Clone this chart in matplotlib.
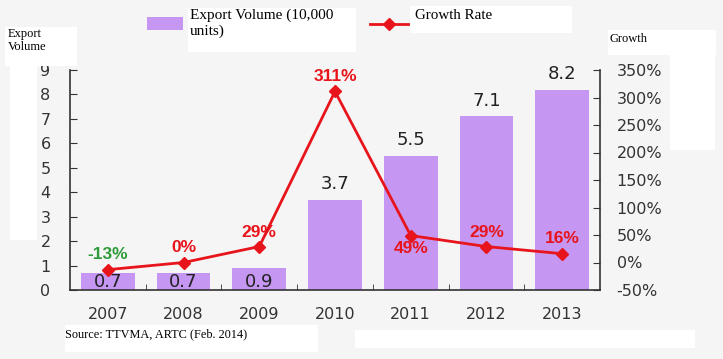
import matplotlib
matplotlib.use("Agg")
import matplotlib.pyplot as plt
from matplotlib.lines import Line2D
from matplotlib.patches import Rectangle

years = ["2007", "2008", "2009", "2010", "2011", "2012", "2013"]
volume = [0.7, 0.7, 0.9, 3.7, 5.5, 7.1, 8.2]
growth = [-13, 0, 29, 311, 49, 29, 16]
growth_labels = ["-13%", "0%", "29%", "311%", "49%", "29%", "16%"]
left_ticks = [0, 1, 2, 3, 4, 5, 6, 7, 8, 9]
right_ticks = [-50, 0, 50, 100, 150, 200, 250, 300, 350]

BG = "#f5f5f5"
BAR = "#c597f2"
RED = "#e8141b"
GREEN = "#2e9a3a"
DARK = "#333333"

fig = plt.figure(figsize=(7.23, 3.59), dpi=100, facecolor=BG)

W = 723.0
H = 359.0
def white(x0, y0, x1, y1):
    fig.patches.append(Rectangle((x0 / W, 1 - y1 / H), (x1 - x0) / W, (y1 - y0) / H,
                                 transform=fig.transFigure, facecolor="white",
                                 edgecolor="none", zorder=0))
white(5, 27, 77, 66)
white(10, 66, 37, 240)
white(188, 8, 356, 52)
white(410, 6, 572, 33)
white(608, 30, 716, 55)
white(670, 55, 715, 150)
white(65, 325, 318, 352)
white(355, 330, 695, 348)

ax = fig.add_axes([70 / W, 1 - 290 / H, 530 / W, 220 / H])
ax.set_facecolor("none")
x = list(range(len(years)))
ax.bar(x, volume, width=0.71, color=BAR, zorder=2)
ax.set_xlim(-0.5, len(years) - 0.5)
ax.set_ylim(0, 9)
ax.set_yticks(left_ticks)
ax.set_xticks(x)
ax.set_xticklabels(years)
ax.set_xticks([i + 0.5 for i in x[:-1]], minor=True)
ax.tick_params(axis="x", which="major", length=0, pad=12, labelsize=11.5, labelcolor=DARK)
ax.tick_params(axis="x", which="minor", direction="in", length=4, color=DARK)
ax.tick_params(axis="y", direction="in", length=5, pad=14, labelsize=11.5, labelcolor=DARK, color=DARK)
ax.spines["top"].set_visible(False)
for s in ("left", "bottom", "right"):
    ax.spines[s].set_color(DARK)
    ax.spines[s].set_linewidth(1.2)

for i, v in enumerate(volume):
    if v < 2:
        ax.text(i, -0.05, f"{v}", ha="center", va="bottom", fontsize=13,
                color="#222222", zorder=5)
    else:
        ax.text(i, v + 0.25, f"{v}", ha="center", va="bottom", fontsize=13,
                color="#222222", zorder=5)

ax2 = ax.twinx()
ax2.set_ylim(-50, 350)
ax2.set_yticks(right_ticks)
ax2.set_yticklabels([f"{t}%" for t in right_ticks])
ax2.tick_params(axis="y", direction="in", length=5, pad=12, labelsize=11.5, labelcolor=DARK, color=DARK)
for s in ax2.spines.values():
    s.set_visible(False)
ax2.plot(x, growth, color=RED, linewidth=2, marker="D", markersize=6, zorder=4)

offsets = [14, 14, 12, 14, -38, 12, 14]
for i, (g, lab) in enumerate(zip(growth, growth_labels)):
    col = GREEN if g < 0 else RED
    ax2.text(i, g + offsets[i], lab, ha="center", va="bottom", family="Liberation Sans",
             fontsize=12.5, fontweight="bold", color=col, zorder=6)

serif = "Liberation Serif"
fig.text(8 / W, 1 - 28 / H, "Export\nVolume", ha="left", va="top", fontsize=9,
         family=serif, linespacing=1.15)
fig.text(609 / W, 1 - 33 / H, "Growth", ha="left", va="top", fontsize=9, family=serif)
fig.text(65 / W, 1 - 328 / H, "Source: TTVMA, ARTC (Feb. 2014)", ha="left", va="top",
         fontsize=8.8, family=serif)

# legend
fig.patches.append(Rectangle((147 / W, 1 - 30 / H), 36 / W, 13 / H, transform=fig.transFigure,
                             facecolor=BAR, edgecolor="none"))
fig.text(190 / W, 1 - 9 / H, "Export Volume (10,000\nunits)", ha="left", va="top",
         fontsize=11, family=serif, linespacing=1.2)
fig.lines.append(Line2D([370 / W, 408 / W], [1 - 24 / H, 1 - 24 / H], transform=fig.transFigure,
                        color=RED, linewidth=2))
fig.lines.append(Line2D([389 / W], [1 - 24 / H], transform=fig.transFigure,
                        color=RED, marker="D", markersize=6))
fig.text(415 / W, 1 - 9 / H, "Growth Rate", ha="left", va="top", fontsize=10.8, family=serif)

fig.savefig("out.png", dpi=100, facecolor=BG)
